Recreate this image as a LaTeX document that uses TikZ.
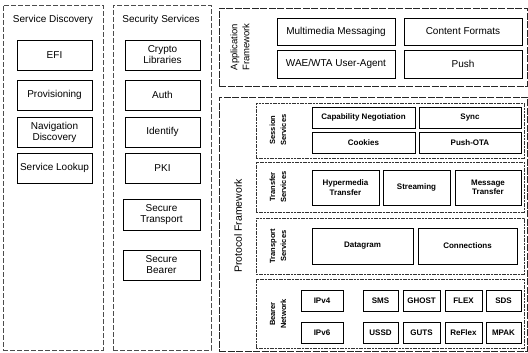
\documentclass[tikz,border=0pt]{standalone}
\usepackage{fontspec}
\setmainfont{Liberation Sans}
\newcommand{\bx}[7]{\node[#1, anchor=north west, minimum width={(#5-#3)*1pt}, minimum height={(#6-#4)*1pt}] (#2) at (#3,#4) {#7};}
\begin{document}
\begin{tikzpicture}[x=1pt,y=-1pt,
  outerbox/.style={draw=black!70, dash pattern=on 5pt off 2pt, line width=0.6pt, inner sep=0pt, outer sep=0pt},
  framebox/.style={draw=black!85, dash pattern=on 7pt off 1.5pt, line width=0.7pt, inner sep=0pt, outer sep=0pt},
  subbox/.style={draw=black!80, dash pattern=on 2pt off 0.7pt, line width=0.6pt, inner sep=0pt, outer sep=0pt},
  ibox/.style={draw=black, line width=0.6pt, inner sep=1pt, outer sep=0pt, align=center, font=\fontsize{10}{11}\selectfont},
  pbox/.style={ibox, font=\bfseries\fontsize{8}{9.5}\selectfont},
  hdr/.style={inner sep=0pt, font=\fontsize{10}{11}\selectfont},
  vlab/.style={rotate=90, align=center, inner sep=0pt, font=\bfseries\fontsize{7.5}{11}\selectfont},
  flab/.style={rotate=90, align=center, inner sep=0pt},
]
\useasboundingbox (0,0) rectangle (528,353);

% left columns
\bx{outerbox}{sd}{3}{5}{103}{350}{}
\bx{outerbox}{sec}{113}{5}{211}{350}{}
\node[hdr] (sdh) at (53,20) {Service Discovery};
\node[hdr] (sech) at (161,20) {Security Services};

\bx{ibox}{efi}{17}{40}{92}{70}{EFI}
\bx{ibox}{prov}{17}{80}{92}{110}{Provisioning}
\bx{ibox}{nav}{17}{117}{92}{147}{Navigation\\Discovery}
\bx{ibox}{look}{17}{153}{92}{183}{Service Lookup}

\bx{ibox}{crypto}{125}{40}{200}{70}{Crypto\\Libraries}
\bx{ibox}{auth}{125}{80}{200}{110}{Auth}
\bx{ibox}{ident}{125}{117}{200}{147}{Identify}
\bx{ibox}{pki}{125}{153}{200}{183}{PKI}
\bx{ibox}{stp}{123}{199}{200}{230}{Secure\\Transport}
\bx{ibox}{sbr}{123}{250}{200}{280}{Secure\\Bearer}

% application framework
\bx{framebox}{app}{219}{8}{527}{86}{}
\node[flab, font=\fontsize{9.5}{12}\selectfont] (appl) at (240,47) {Application\\Framework};
\bx{ibox}{mm}{277}{18}{395}{45}{Multimedia Messaging}
\bx{ibox}{cf}{404}{18}{522}{45}{Content Formats}
\bx{ibox}{wae}{277}{50}{395}{78}{WAE/WTA User-Agent}
\bx{ibox}{push}{404}{50}{522}{78}{Push}

% protocol framework
\bx{framebox}{proto}{219}{97}{527}{351}{}
\node[flab, font=\fontsize{10.5}{12}\selectfont] (protol) at (238,226) {Protocol Framework};

\bx{subbox}{sess}{256}{103}{524}{158}{}
\bx{subbox}{trf}{256}{162}{524}{212}{}
\bx{subbox}{trp}{256}{218}{524}{274}{}
\bx{subbox}{brr}{256}{279}{524}{348}{}

\node[vlab] (sessl) at (278,130) {Session\\Services};
\node[vlab] (trfl) at (278,187) {Transfer\\Services};
\node[vlab] (trpl) at (278,246) {Transport\\Services};
\node[vlab] (brrl) at (278,314) {Bearer\\Network};

\bx{pbox}{capneg}{312}{107}{415}{128}{Capability Negotiation}
\bx{pbox}{sync}{419}{107}{521}{128}{Sync}
\bx{pbox}{cook}{312}{132}{415}{153}{Cookies}
\bx{pbox}{pota}{419}{132}{521}{153}{Push-OTA}

\bx{pbox}{hyp}{312}{170}{379}{205}{Hypermedia\\Transfer}
\bx{pbox}{strm}{383}{170}{450}{205}{Streaming}
\bx{pbox}{msg}{455}{170}{521}{205}{Message\\Transfer}

\bx{pbox}{dgram}{312}{228}{413}{264}{Datagram}
\bx{pbox}{conn}{418}{228}{517}{264}{Connections}

\bx{pbox}{ipv4}{301}{290}{343}{311}{IPv4}
\bx{pbox}{sms}{363}{290}{398}{311}{SMS}
\bx{pbox}{ghost}{403}{290}{440}{311}{GHOST}
\bx{pbox}{flex}{445}{290}{482}{311}{FLEX}
\bx{pbox}{sds}{486}{290}{521}{311}{SDS}
\bx{pbox}{ipv6}{301}{322}{343}{343}{IPv6}
\bx{pbox}{ussd}{363}{322}{398}{343}{USSD}
\bx{pbox}{guts}{403}{322}{440}{343}{GUTS}
\bx{pbox}{reflex}{445}{322}{482}{343}{ReFlex}
\bx{pbox}{mpak}{486}{322}{521}{343}{MPAK}
\end{tikzpicture}
\end{document}
